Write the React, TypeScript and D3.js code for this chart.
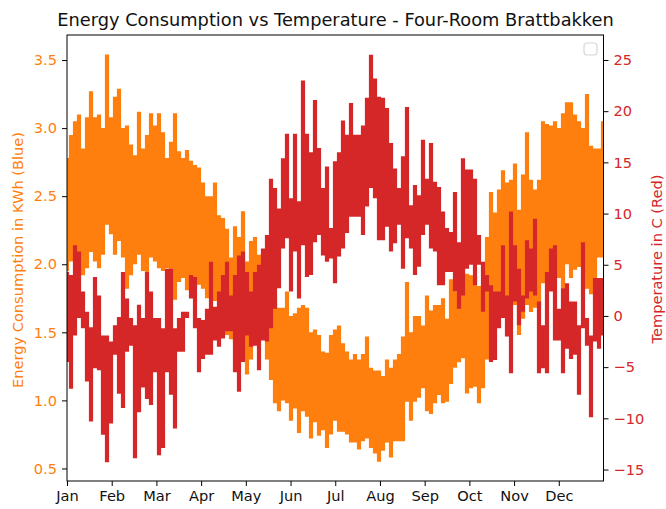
import React, { useEffect, useRef } from "react";
import * as d3 from "d3";

const monthLabels = ["Jan","Feb","Mar","Apr","May","Jun","Jul","Aug","Sep","Oct","Nov","Dec"];
const energyTicks = [0.5,1.0,1.5,2.0,2.5,3.0,3.5];
const tempTicks = [-15,-10,-5,0,5,10,15,20,25];

const energyHigh = [2.78,2.95,3.05,3.10,2.85,3.08,3.27,3.08,3.10,3.00,3.54,3.08,3.23,3.29,3.0,3.02,2.88,2.80,3.12,2.85,2.95,3.11,3.02,3.11,2.97,2.78,2.90,3.11,2.83,2.78,2.84,2.76,2.73,2.71,2.60,2.50,2.50,2.60,2.36,2.34,2.26,2.05,2.28,2.2,2.39,2.02,2.17,2.20,2.07,2.08,2.10,1.9,1.75,1.68,1.68,1.80,1.62,1.64,1.68,1.70,1.68,1.50,1.52,1.48,1.36,1.35,1.48,1.52,1.55,1.42,1.36,1.30,1.34,1.30,1.34,1.47,1.24,1.22,1.22,1.18,1.30,1.24,1.30,1.34,1.47,1.87,1.50,1.62,1.62,1.55,1.77,1.66,1.70,1.70,1.75,1.60,1.89,1.80,1.76,2.12,1.93,1.92,1.90,1.84,1.85,2.20,2.53,2.38,2.55,2.69,2.60,2.62,2.74,2.40,2.66,2.97,2.62,2.55,2.62,3.05,3.03,3.02,3.05,3.0,3.11,3.19,3.19,3.10,3.05,3.00,3.25,2.87,2.85,2.85,3.05];
const energyLow = [1.95,2.02,2.12,1.97,1.92,1.97,2.09,2.02,1.97,2.07,2.29,2.22,2.07,2.17,2.05,1.82,1.92,2.00,2.07,1.95,1.94,2.05,2.02,1.97,1.95,1.97,1.73,1.74,1.87,1.90,1.81,1.92,1.82,1.85,1.82,1.75,1.82,1.73,1.76,1.70,1.48,1.45,1.42,1.48,1.38,1.19,1.30,1.48,1.50,1.48,1.30,1.15,0.98,0.92,1.00,0.98,0.85,0.94,0.76,0.92,0.88,0.72,0.84,0.74,0.78,0.65,0.75,0.85,0.77,0.77,0.75,0.69,0.69,0.64,0.70,0.72,0.65,0.61,0.55,0.63,0.69,0.58,0.70,0.70,0.70,0.99,0.85,0.99,1.02,1.09,0.92,0.90,0.98,1.04,0.98,0.99,1.12,1.24,1.28,1.31,1.05,1.09,1.10,0.98,1.09,1.30,1.82,1.72,1.65,1.64,1.75,1.70,1.70,1.48,1.60,1.70,1.65,1.68,1.68,1.86,1.88,2.00,1.95,1.90,1.82,2.0,1.90,1.96,1.98,2.0,1.82,1.78,1.80,2.05,2.05];
const tempHigh = [4.3,4.0,6.9,6.3,2.4,0.4,-1.1,3.8,2.0,-1.9,-1.9,-2.5,-0.9,-0.1,4.3,1.7,-0.2,-0.9,1.1,-0.2,4.3,2.4,-0.2,-0.2,-1.2,4.6,4.6,-1.2,-0.2,0.4,0.4,4.0,3.8,-0.2,-0.4,0.7,5.3,0.9,2.4,4.0,5.3,2.0,4.0,5.9,6.3,4.3,2.4,4.3,5.0,6.6,7.9,13.4,12.5,10.5,15.4,17.8,11.5,17.8,11.2,23.0,17.8,16.0,21.1,16.4,12.5,14.6,8.6,15.1,16.0,19.1,17.7,20.8,17.7,17.7,18.6,21.3,25.5,23.2,21.4,21.3,20.3,16.9,14.4,12.5,15.6,20.4,10.8,12.8,11.8,17.2,13.4,16.9,13.1,12.6,10.2,8.6,8.2,12.1,7.2,15.4,14.3,14.3,13.4,7.9,5.3,4.0,3.0,2.4,2.4,6.9,2.0,10.2,6.9,4.6,2.0,7.4,6.6,9.5,1.4,-0.9,4.3,6.6,6.9,0.7,2.7,3.2,1.4,1.4,-0.9,7.2,-0.2,-1.9,3.7,3.7,3.7];
const tempLow = [-4.5,-7.1,-1.9,-0.2,-1.2,-6.4,-10.3,-5.1,-5.3,-11.6,-14.3,-10.5,-3.8,-7.6,-9.0,-3.5,-2.9,-13.9,-9.4,-7.0,-8.1,-8.7,-5.5,-13.6,-12.9,-5.5,-7.7,-11.0,-3.5,-3.5,-0.2,1.7,-1.2,-5.5,-4.2,-3.8,-3.8,-2.4,-3.0,-2.2,-1.5,-1.5,-5.5,-7.4,-4.5,-1.9,-3.0,-2.9,-5.3,-2.4,-2.5,-1.2,0.7,2.7,6.6,7.6,2.4,6.3,1.7,6.9,3.8,4.0,7.2,7.9,5.9,5.3,5.6,3.2,5.8,6.6,8.1,9.7,9.7,9.7,7.9,10.7,12.5,11.5,7.4,7.4,8.7,6.3,7.1,8.9,4.6,7.6,6.6,4.0,4.8,7.9,8.9,6.6,6.3,3.0,3.0,4.3,4.3,2.4,0.7,2.0,4.6,5.0,3.0,5.0,0.4,2.4,-4.5,-4.3,-1.2,-0.2,-2.0,-5.6,1.4,-0.9,0.4,1.7,2.4,2.0,-5.6,-5.1,-5.6,2.4,-2.4,-2.4,-5.6,-3.2,-4.2,-3.8,-7.7,-1.2,-2.9,-9.9,-2.5,-3.2,-1.9];

const W = 666, H = 509;
const plot = { left: 67, right: 603.5, top: 35, bottom: 481 };
const ORANGE = "#ff7f0e", RED = "#d62728";
const FONT = "'DejaVu Sans', sans-serif";
const FONT_SIZE = 14.6;

function Band({ high, low, y, x, color, width }: {
  high: number[]; low: number[]; color: string; width: number;
  x: d3.ScaleLinear<number, number>; y: d3.ScaleLinear<number, number>;
}) {
  const d = high.map((h, i) => `M${x(i)},${y(h)}L${x(i)},${y(low[i])}`).join("");
  return <path d={d} fill="none" stroke={color} strokeWidth={width} />;
}

export default function App() {
  const axes = useRef<SVGGElement>(null);

  const xSample = d3.scaleLinear().domain([0, energyHigh.length - 1]).range([plot.left, 603]);
  const xMonth = d3.scaleLinear().domain([0, 12]).range([plot.left, plot.right]);
  const yEnergy = d3.scaleLinear().domain([0.408, 3.684]).range([plot.bottom, plot.top]);
  const yTemp = d3.scaleLinear().domain([-16.12, 27.44]).range([plot.bottom, plot.top]);

  useEffect(() => {
    const g = d3.select(axes.current);
    g.selectAll("*").remove();
    const bottom = g.append("g").attr("transform", `translate(0,${plot.bottom})`)
      .call(d3.axisBottom(xMonth).tickValues(monthLabels.map((_, i) => i))
        .tickFormat((_, i) => monthLabels[i]).tickSize(5).tickPadding(5));
    const left = g.append("g").attr("transform", `translate(${plot.left},0)`)
      .call(d3.axisLeft(yEnergy).tickValues(energyTicks).tickFormat(d3.format(".1f")).tickSize(5).tickPadding(5));
    const right = g.append("g").attr("transform", `translate(${plot.right},0)`)
      .call(d3.axisRight(yTemp).tickValues(tempTicks).tickSize(5).tickPadding(5));
    [bottom, left, right].forEach(a => {
      a.select(".domain").remove();
      a.attr("font-family", FONT).attr("font-size", FONT_SIZE);
      a.selectAll("line").attr("stroke", "#000").attr("stroke-width", 1);
    });
    bottom.selectAll("text").attr("fill", "#111");
    left.selectAll("text").attr("fill", ORANGE);
    right.selectAll("text").attr("fill", RED);
  }, []);

  return (
    <svg width={W} height={H} style={{ position: "absolute", left: 0, top: 0, display: "block", background: "#fff" }}>
      <defs>
        <clipPath id="plot-clip">
          <rect x={plot.left} y={plot.top} width={plot.right - plot.left} height={plot.bottom - plot.top} />
        </clipPath>
      </defs>
      <g clipPath="url(#plot-clip)">
        <Band high={energyHigh} low={energyLow} x={xSample} y={yEnergy} color={ORANGE} width={4.2} />
        <Band high={tempHigh} low={tempLow} x={xSample} y={yTemp} color={RED} width={4.2} />
      </g>
      <rect x={plot.left} y={plot.top} width={plot.right - plot.left} height={plot.bottom - plot.top} fill="none" stroke="#000" strokeWidth={1} />
      <g ref={axes} />
      <rect x={584} y={43} width={13} height={12} rx={3} fill="#fff" stroke="#d6d6d6" strokeWidth={1.2} />
      <text x={335.5} y={26} textAnchor="middle" fontFamily={FONT} fontSize={17.8} fill="#111">
        Energy Consumption vs Temperature - Four-Room Brattbakken
      </text>
      <text transform="translate(23,260) rotate(-90)" textAnchor="middle" fontFamily={FONT} fontSize={FONT_SIZE} fill={ORANGE}>
        Energy Consumption in KWh (Blue)
      </text>
      <text transform="translate(662,259) rotate(-90)" textAnchor="middle" fontFamily={FONT} fontSize={FONT_SIZE} fill={RED}>
        Temperature in C (Red)
      </text>
    </svg>
  );
}
